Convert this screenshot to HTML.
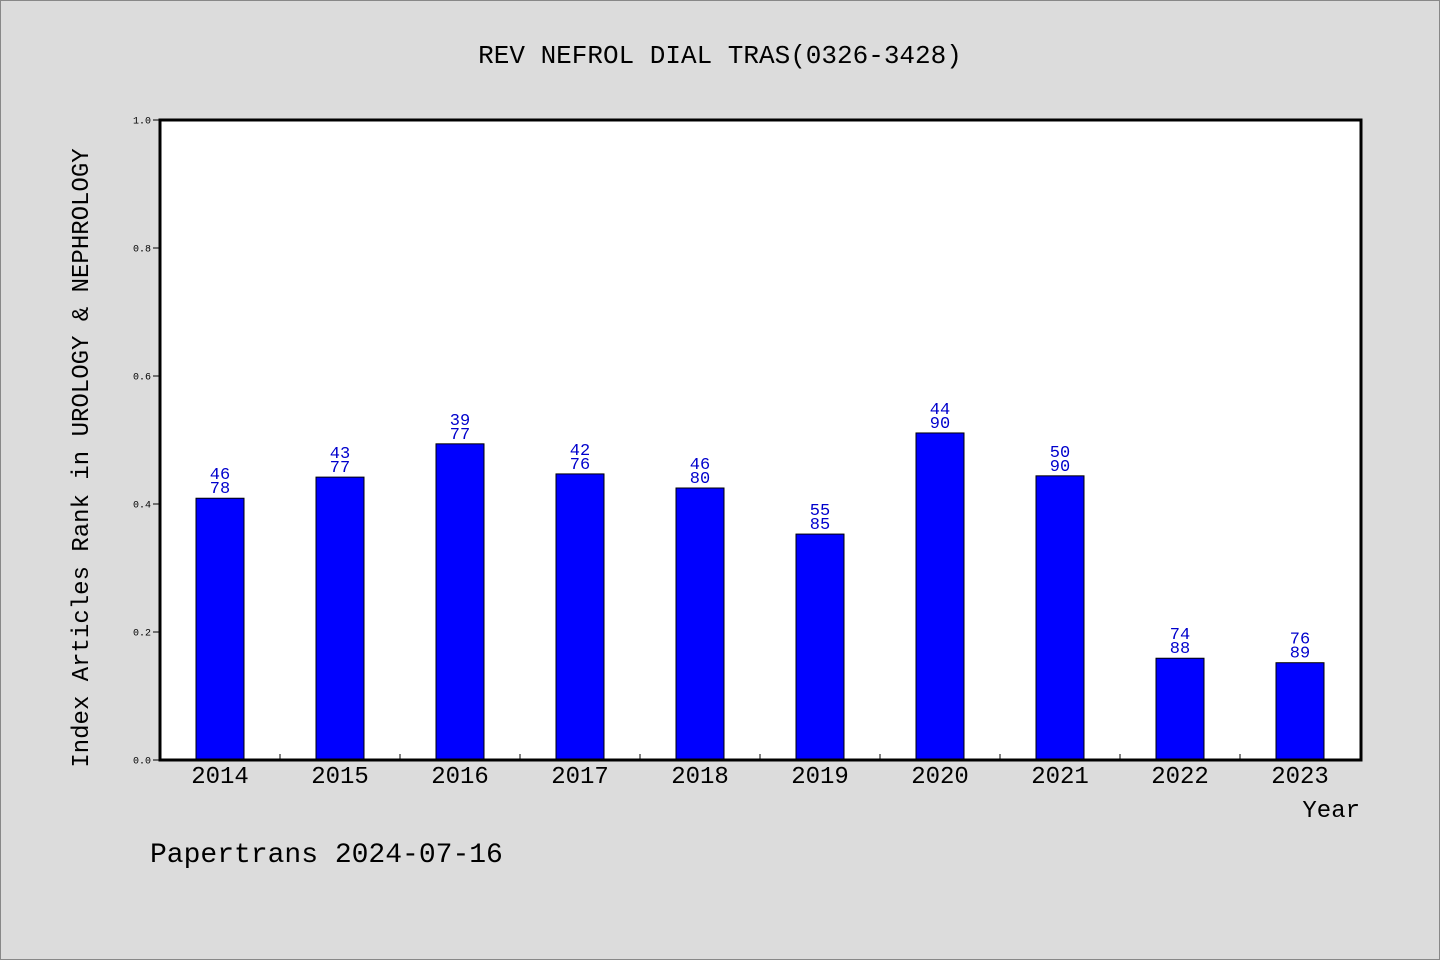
<!DOCTYPE html>
<html><head><meta charset="utf-8"><style>
html,body{margin:0;padding:0;background:#dcdcdc;}
svg{display:block;font-family:"WenQuanYi Zen Hei","Liberation Mono",monospace;}
</style></head><body>
<svg width="1440" height="960" viewBox="0 0 1440 960" xmlns="http://www.w3.org/2000/svg">
<rect x="0.5" y="0.5" width="1439" height="959" fill="#dcdcdc" stroke="#888"/>
<text x="720" y="63" text-anchor="middle" font-size="26" fill="#000">REV NEFROL DIAL TRAS(0326-3428)</text>
<rect x="160" y="120" width="1201" height="640" fill="#fff"/>
<g id="bars"></g>
<g id="yticks"></g>
<g id="xticks"></g>
<rect x="160" y="120" width="1201" height="640" fill="none" stroke="#000" stroke-width="3"/>
<text transform="translate(88,458) rotate(-90)" text-anchor="middle" font-size="24" fill="#000">Index Articles Rank in UROLOGY &amp; NEPHROLOGY</text>
<text x="1360" y="817" text-anchor="end" font-size="24" fill="#000">Year</text>
<text x="150" y="862" font-size="28" fill="#000">Papertrans 2024-07-16</text>
</svg>
<script>
const categories=["2014","2015","2016","2017","2018","2019","2020","2021","2022","2023"];
const values=[0.409,0.442,0.494,0.447,0.425,0.353,0.511,0.444,0.159,0.152];
const topLabels=["46","43","39","42","46","55","44","50","74","76"];
const bottomLabels=["78","77","77","76","80","85","90","90","88","89"];
const yTickLabels=["0.0","0.2","0.4","0.6","0.8","1.0"];
const yTickValues=[0,0.2,0.4,0.6,0.8,1.0];
const NS="http://www.w3.org/2000/svg";
const x0=160,slot=120,y0=760,h=640,bw=48;
const xs=i=>x0+slot*i+slot/2;
const ys=v=>y0-v*h;
function mk(tag,attrs,parent,txt){const e=document.createElementNS(NS,tag);for(const k in attrs)e.setAttribute(k,attrs[k]);if(txt!==undefined)e.textContent=txt;parent.appendChild(e);return e;}
const gb=document.getElementById('bars'),gy=document.getElementById('yticks'),gx=document.getElementById('xticks');
categories.forEach((c,i)=>{
  const cx=xs(i),top=ys(values[i]);
  const r=mk('rect',{x:cx-bw/2,y:top,width:bw,height:y0-top,fill:'#0000ff',stroke:'#000','stroke-width':1},gb);
  
  
  const t1=mk('text',{x:cx,y:top-19,'text-anchor':'middle','font-size':17,fill:'#0000cc'},gb,topLabels[i]);
  
  
  const t2=mk('text',{x:cx,y:top-5,'text-anchor':'middle','font-size':17,fill:'#0000cc'},gb,bottomLabels[i]);
  
  
  const xl=mk('text',{x:cx,y:783,'text-anchor':'middle','font-size':24,fill:'#000'},gx,c);
  
  
  if(i>0){const tk=mk('line',{x1:x0+slot*i,x2:x0+slot*i,y1:y0,y2:y0-6,stroke:'#000','stroke-width':1},gx);
  
  }
});
yTickValues.forEach((v,i)=>{
  const y=ys(v);
  const l=mk('line',{x1:153,x2:160,y1:y,y2:y,stroke:'#000','stroke-width':1},gy);
  
  
  const t=mk('text',{x:151,y:y+3.5,'text-anchor':'end','font-size':10,fill:'#000'},gy,yTickLabels[i]);
  
  
});
</script>
</body></html>
